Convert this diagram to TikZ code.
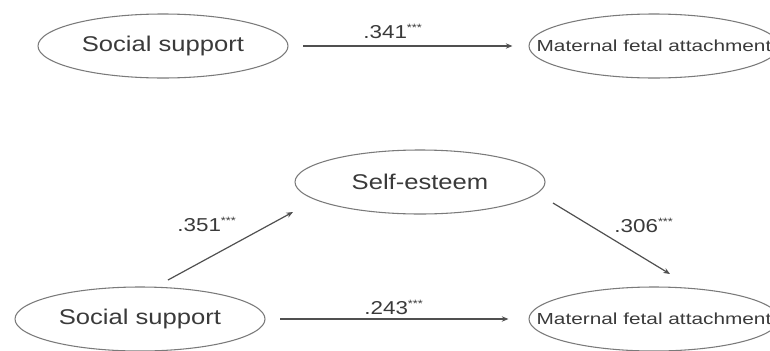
\documentclass[tikz,border=0pt]{standalone}
\usepackage{fontspec}
\setmainfont{Liberation Sans}[FakeStretch=1.2]
\newfontfamily\mfafont{Liberation Sans}[FakeStretch=1.3]
\usetikzlibrary{shapes.geometric,arrows.meta,calc}
\definecolor{txt}{HTML}{3A3A3A}
\definecolor{ell}{HTML}{7A7A7A}
\definecolor{arr}{HTML}{505050}
\newcommand{\zw}[1]{\makebox[0pt][c]{#1}}
\begin{document}
\begin{tikzpicture}[x=0.75pt,y=-0.75pt,
  var/.style={ellipse,draw=ell,line width=0.8pt,minimum width=187.5pt,minimum height=48pt,inner sep=0pt,text=txt,font=\fontsize{16}{18}\selectfont},
  mfa/.style={var,font=\mfafont\fontsize{12}{14}\selectfont},
  path/.style={draw=arr,line width=0.9pt,-{Stealth[length=5pt,width=4pt]}},
  coef/.style={text=txt,inner sep=0pt,font=\fontsize{14}{16}\selectfont}]
\useasboundingbox (0,0) rectangle (770,350);
% top model
\node[var] (ss1) at (163,46) {\zw{Social support}};
\node[mfa] (mfa1) at (654,46) {\zw{Maternal fetal attachment}};
\draw[path,shorten <=11pt,shorten >=12pt] (ss1.east) -- (mfa1.west);
\node[coef] (c1) at (393,31) {.341\textsuperscript{\footnotesize ***}};
% bottom model
\node[var] (se) at (420,182) {\zw{Self-esteem}};
\node[var] (ss2) at (140,319) {\zw{Social support}};
\node[mfa] (mfa2) at (654,319) {\zw{Maternal fetal attachment}};
\draw[path] ($(ss2.center)+(28,-39)$) -- ($(se.center)+(-127,30)$);
\draw[path] ($(se.center)+(133,21)$) -- ($(mfa2.center)+(16,-45)$);
\draw[path,shorten <=11pt,shorten >=15pt] (ss2.east) -- (mfa2.west);
\node[coef] (c2) at (207,224) {.351\textsuperscript{\footnotesize ***}};
\node[coef] (c3) at (644,225) {.306\textsuperscript{\footnotesize ***}};
\node[coef] (c4) at (394,307) {.243\textsuperscript{\footnotesize ***}};
\end{tikzpicture}
\end{document}
